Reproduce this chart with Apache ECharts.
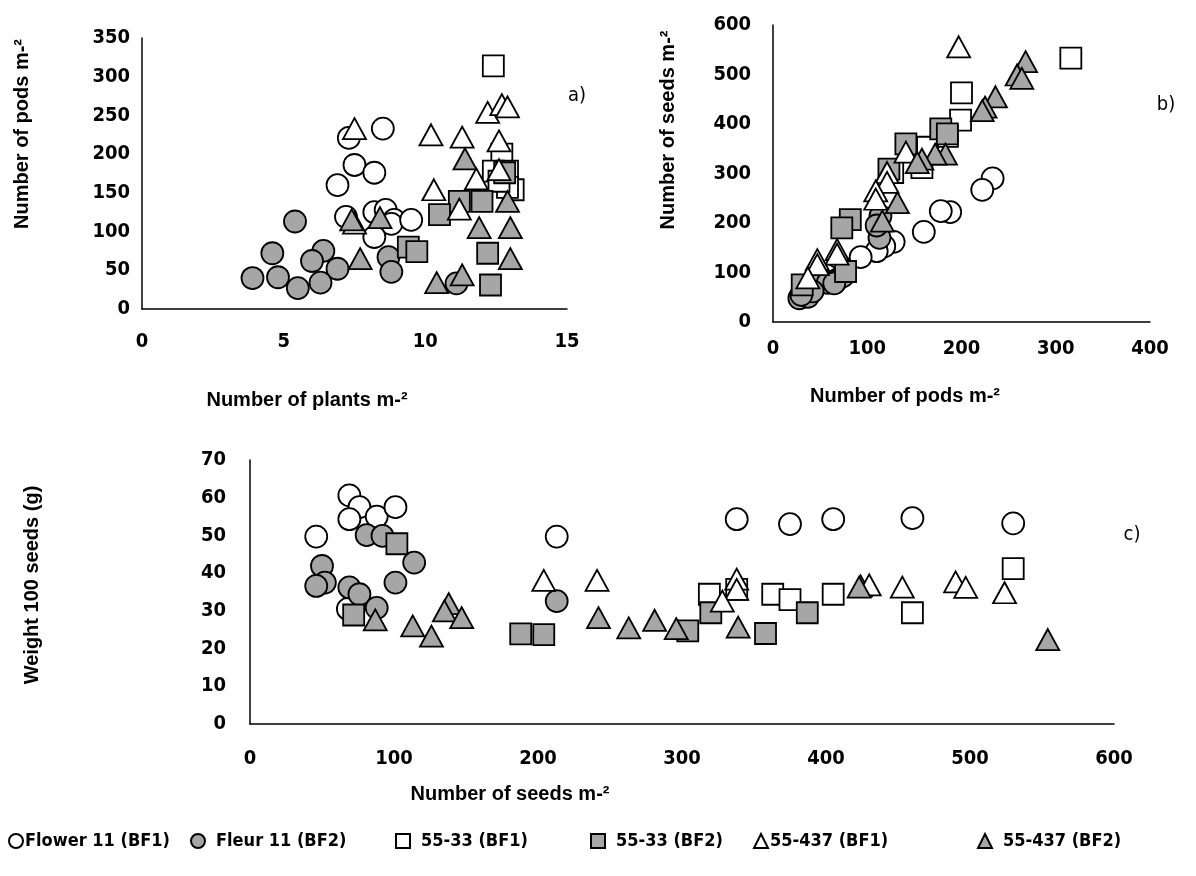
<!DOCTYPE html>
<html>
<head>
<meta charset="utf-8">
<script src="https://cdn.jsdelivr.net/npm/echarts@6/dist/echarts.min.js"></script>
<style>
html,body{margin:0;padding:0;background:#fff;}
#chart{width:1196px;height:876px;}
</style>
</head>
<body>
<div id="chart"></div>
<script>
// ---------- DATA ----------
const seriesNames = ['Flower 11 (BF1)', 'Fleur 11 (BF2)', '55-33 (BF1)', '55-33 (BF2)', '55-437 (BF1)', '55-437 (BF2)'];

// panel a) : [plants m-2, pods m-2]
const a_flowerBF1 = [[7.3,221],[8.5,233],[7.5,186],[8.2,176],[6.9,160],[7.2,119],[8.2,125],[8.6,128],[8.9,115],[8.8,110],[9.5,115],[8.2,93]];
const a_fleurBF2  = [[5.4,113],[4.6,72],[6.4,75],[6.0,62],[6.9,52],[3.9,40],[4.8,41],[5.5,27],[6.3,34],[8.7,67],[8.8,48],[11.1,33]];
const a_s33BF1    = [[12.4,314],[12.7,200],[12.4,178],[12.9,178],[13.1,154],[12.9,157],[12.6,165]];
const a_s33BF2    = [[11.2,139],[12.0,139],[10.5,122],[9.4,80],[9.7,74],[12.2,72],[12.3,31],[12.8,176]];
const a_s437BF1   = [[7.5,233],[10.2,225],[11.3,222],[12.2,254],[12.7,264],[12.9,261],[12.6,217],[12.6,180],[11.8,168],[10.3,154],[11.2,129],[7.5,111]];
const a_s437BF2   = [[7.4,115],[8.4,118],[7.7,65],[11.4,194],[12.9,139],[11.9,105],[13.0,105],[13.0,65],[10.4,34],[11.3,44]];

// panel b) : [pods m-2, seeds m-2]
const b_flowerBF1 = [[233,290],[222,267],[188,222],[178,224],[160,182],[128,162],[118,153],[110,143],[93,131],[72,112],[56,95],[47,80]];
const b_fleurBF2  = [[28,48],[37,51],[51,82],[68,85],[74,92],[58,79],[114,214],[113,170],[42,62],[30,55],[65,78],[110,195]];
const b_s33BF1    = [[316,533],[200,463],[199,408],[185,375],[164,353],[158,312],[127,302]];
const b_s33BF2    = [[178,390],[141,360],[123,309],[82,207],[73,190],[77,102],[31,75],[185,380]];
const b_s437BF1   = [[197,556],[141,343],[121,302],[121,282],[109,265],[109,248],[68,146],[68,137],[47,126],[47,116],[37,89]];
const b_s437BF2   = [[268,526],[259,499],[264,492],[236,455],[225,434],[222,427],[183,339],[172,339],[158,329],[153,322],[132,241],[116,204]];

// panel c) : [seeds m-2, weight 100 seeds (g)]
const c_flowerBF1 = [[46,49.7],[69,60.6],[76,57.5],[69,54.3],[88,55.0],[101,57.5],[213,49.7],[338,54.3],[375,53.0],[405,54.3],[460,54.6],[530,53.2],[68,30.5]];
const c_fleurBF2  = [[81,50.1],[92,49.9],[114,42.8],[50,41.9],[52,37.5],[46,36.6],[69,36.2],[76,34.4],[101,37.5],[88,30.8],[213,32.6]];
const c_s33BF1    = [[319,34.4],[338,35.7],[363,34.4],[375,33.0],[405,34.4],[460,29.5],[530,41.2]];
const c_s33BF2    = [[102,47.8],[72,28.9],[188,23.9],[204,23.7],[304,24.7],[320,29.5],[387,29.5],[358,24.0]];
const c_s437BF1   = [[204,38.1],[241,38.1],[338,38.4],[338,35.7],[328,32.6],[424,36.6],[430,36.9],[453,36.3],[490,37.7],[497,36.2],[524,34.8]];
const c_s437BF2   = [[87,27.6],[113,26.0],[126,23.3],[138,31.9],[135,30.0],[147,28.2],[242,28.2],[263,25.5],[281,27.5],[296,25.3],[339,25.7],[423,36.3],[554,22.4]];

// axis ticks
const aX = {min:0, max:15, interval:5};
const aY = {min:0, max:350, interval:50};
const bX = {min:0, max:400, interval:100};
const bY = {min:0, max:600, interval:100};
const cX = {min:0, max:600, interval:100};
const cY = {min:0, max:70, interval:10};

// ---------- STYLE ----------
const NARROW = "'Liberation Sans Narrow','Arial Narrow','DejaVu Sans Condensed','Liberation Sans',sans-serif";
const SANS = "'Liberation Sans',Arial,sans-serif";
const GRAY = '#a6a6a6';
const styles = [
  {symbol:'circle',   color:'#ffffff', size:22},
  {symbol:'circle',   color:GRAY,      size:22},
  {symbol:'rect',     color:'#ffffff', size:21},
  {symbol:'rect',     color:GRAY,      size:21},
  {symbol:'triangle', color:'#ffffff', size:[23,21]},
  {symbol:'triangle', color:GRAY,      size:[23,21]}
];

function axis(gi, cfg, margin){
  return {
    type:'value', gridIndex:gi, min:cfg.min, max:cfg.max, interval:cfg.interval,
    axisLine:{show:true, onZero:false, lineStyle:{color:'#000', width:1.5}},
    axisTick:{show:false},
    splitLine:{show:false},
    axisLabel:{color:'#000', fontFamily:NARROW, fontWeight:'bold', fontSize:20, margin:margin}
  };
}

const grids = [
  {left:142, top:38,  width:425, height:271},
  {left:773, top:25,  width:377, height:297},
  {left:250, top:460, width:864, height:264}
];

const panels = [
  [a_flowerBF1,a_fleurBF2,a_s33BF1,a_s33BF2,a_s437BF1,a_s437BF2],
  [b_flowerBF1,b_fleurBF2,b_s33BF1,b_s33BF2,b_s437BF1,b_s437BF2],
  [c_flowerBF1,c_fleurBF2,c_s33BF1,c_s33BF2,c_s437BF1,c_s437BF2]
];

const series = [];
panels.forEach((p, gi) => {
  p.forEach((d, si) => {
    series.push({
      type:'scatter', name:seriesNames[si], xAxisIndex:gi, yAxisIndex:gi,
      data:d, symbol:styles[si].symbol, symbolSize:styles[si].size,
      itemStyle:{color:styles[si].color, borderColor:'#000', borderWidth:1.8, opacity:1},
      emphasis:{disabled:true}, animation:false
    });
  });
});

const legendLefts = [3, 185, 390, 585, 748, 972];
const legendPad = [-3, 6, 6, 6, -3, 6];
const legends = seriesNames.map((n,i)=>({
  data:[n], left:legendLefts[i], top:827, itemWidth:14, itemHeight:14, itemGap:0,
  selectedMode:false,
  textStyle:{color:'#000', fontFamily:NARROW, fontWeight:'bold', fontSize:18, padding:[0,0,0,legendPad[i]]}
}));

function txt(x, y, text, rot, font){
  return {type:'text', x:x, y:y, rotation:rot||0, silent:true,
    style:{text:text, font:font, fill:'#000', textAlign:'center', textVerticalAlign:'middle', align:'center', verticalAlign:'middle'}};
}
const TITLE_FONT = "bold 20px " + SANS;
const PANEL_FONT = "20px " + NARROW;

const option = {
  backgroundColor:'#fff',
  animation:false,
  grid:grids,
  xAxis:[axis(0,aX,23), axis(1,bX,17), axis(2,cX,25)],
  yAxis:[axis(0,aY,12), axis(1,bY,22), axis(2,cY,24)],
  legend:legends,
  series:series,
  graphic:[
    txt(22, 134, 'Number of pods m-²', Math.PI/2, TITLE_FONT),
    txt(307, 400, 'Number of plants m-²', 0, TITLE_FONT),
    txt(668, 130, 'Number of seeds m-²', Math.PI/2, TITLE_FONT),
    txt(905, 396, 'Number of pods m-²', 0, TITLE_FONT),
    txt(32, 585, 'Weight 100 seeds (g)', Math.PI/2, TITLE_FONT),
    txt(510, 794, 'Number of seeds m-²', 0, TITLE_FONT),
    txt(577, 96, 'a)', 0, PANEL_FONT),
    txt(1166, 105, 'b)', 0, PANEL_FONT),
    txt(1132, 535, 'c)', 0, PANEL_FONT)
  ]
};

const chart = echarts.init(document.getElementById('chart'), null, {renderer:'canvas'});
chart.setOption(option);
</script>
</body>
</html>
